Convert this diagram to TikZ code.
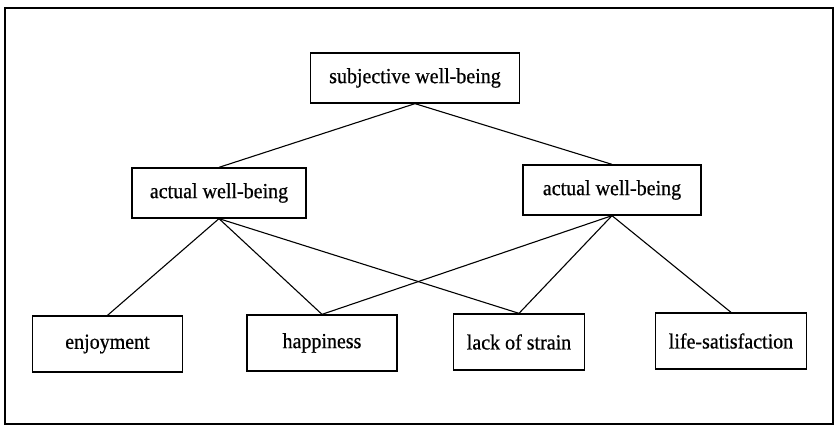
\documentclass[tikz,border=0pt]{standalone}
\usepackage{fontspec}
\setmainfont{Liberation Serif}[FakeBold=0.6, FakeStretch=0.93]
\begin{document}
\begin{tikzpicture}[x=1pt,y=-1pt,
  box/.style={draw, line width=1.3pt, inner sep=0pt, font=\fontsize{21.5}{24}\selectfont},
  link/.style={line width=1.1pt}]
\useasboundingbox (0,0) rectangle (836,425);
% outer frame
\draw[line width=1.4pt] (5,8) rectangle (833,424);
% top level
\node[box, minimum width=209pt, minimum height=50pt] (swb) at (415,78) {subjective well-being};
% middle level
\node[box, minimum width=174pt, minimum height=50pt] (awl) at (219,193) {actual well-being};
\node[box, minimum width=178pt, minimum height=50pt] (awr) at (612,190) {actual well-being};
% bottom level
\node[box, minimum width=150pt, minimum height=56pt] (enj) at (107.5,344) {enjoyment};
\node[box, minimum width=150pt, minimum height=56pt] (hap) at (322,343) {happiness};
\node[box, minimum width=131pt, minimum height=56pt] (los) at (519,342) {lack of strain};
\node[box, minimum width=151pt, minimum height=56pt] (lsf) at (731,341) {life-satisfaction};
% connectors
\draw[link] (swb.south) -- (awl.north);
\draw[link] (swb.south) -- (awr.north);
\draw[link] (awl.south) -- (enj.north);
\draw[link] (awl.south) -- (hap.north);
\draw[link] (awl.south) -- (los.north);
\draw[link] (awr.south) -- (hap.north);
\draw[link] (awr.south) -- (los.north);
\draw[link] (awr.south) -- (lsf.north);
\end{tikzpicture}
\end{document}
